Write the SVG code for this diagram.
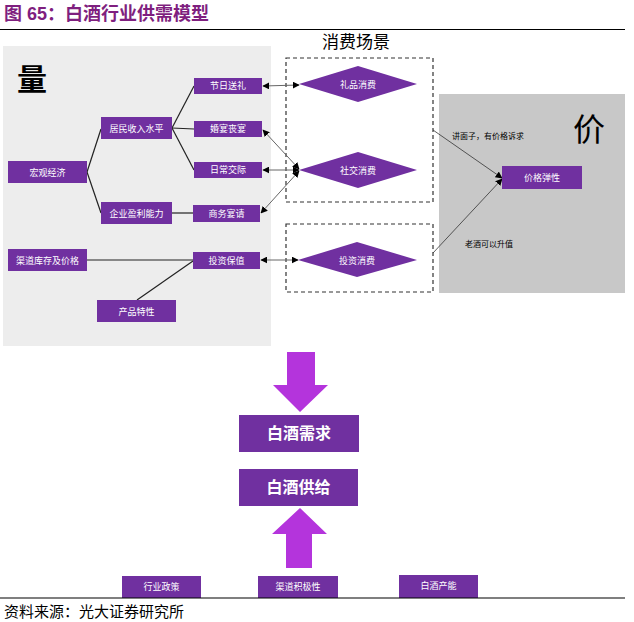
<svg xmlns="http://www.w3.org/2000/svg" width="634" height="622" viewBox="0 0 634 622">
<style>
.t{font-family:"Liberation Sans","Noto Sans CJK SC",sans-serif}
.box{fill:#7030A0}
.bt{font-family:"Liberation Sans","Noto Sans CJK SC",sans-serif;fill:#fff;font-size:9px;text-anchor:middle}
.big{font-family:"Liberation Sans","Noto Sans CJK SC",sans-serif;fill:#fff;font-size:16px;text-anchor:middle;font-weight:bold}
.ln{stroke:#222;stroke-width:1.2;fill:none}
.ar{stroke:#666;stroke-width:1;fill:none;marker-start:url(#ah);marker-end:url(#ah)}
.ar1{stroke:#333;stroke-width:0.8;fill:none;marker-end:url(#ah)}
.dash{fill:none;stroke:#333;stroke-width:1.2;stroke-dasharray:4,3}
.bigarrow{fill:#B434DC}
</style>
<defs>
<marker id="ah" viewBox="0 0 10 10" refX="9" refY="5" markerWidth="7" markerHeight="7" markerUnits="userSpaceOnUse" orient="auto-start-reverse">
<path d="M0,0 L10,5 L0,10 Z" fill="#000"/>
</marker>
</defs>
<rect width="634" height="622" fill="#fff"/>
<text x="4" y="20" class="t" font-size="18" font-weight="bold" fill="#7F1F7F">图 65：白酒行业供需模型</text>
<line x1="0" y1="29.5" x2="625" y2="29.5" stroke="#000" stroke-width="1.2"/>

<g id="panel-left">
<rect x="3" y="46" width="268" height="300" fill="#EDEDED"/>
<text x="17" y="90" class="t" font-size="30" font-weight="bold" fill="#000">量</text>
</g>
<g id="panel-right">
<rect x="439" y="94" width="186" height="199" fill="#C8C8C8"/>
<text x="573" y="141" class="t" font-size="32" fill="#000">价</text>
</g>
<g id="scene">
<text x="356" y="48" class="t" font-size="17" fill="#000" text-anchor="middle">消费场景</text>
<rect x="286" y="58" width="147" height="144" class="dash"/>
<rect x="286" y="224" width="147" height="68" class="dash"/>
</g>

<g id="connectors">
<line class="ln" x1="87" y1="172" x2="101" y2="129"/>
<line class="ln" x1="87" y1="172" x2="101" y2="213"/>
<line class="ln" x1="172" y1="128" x2="194" y2="86"/>
<line class="ln" x1="172" y1="128" x2="194" y2="129"/>
<line class="ln" x1="172" y1="128" x2="194" y2="170"/>
<line class="ln" x1="172" y1="213" x2="193" y2="213"/>
<line class="ln" x1="87" y1="260" x2="193" y2="260" stroke="#444"/>
<line class="ln" x1="137" y1="300" x2="193" y2="261" stroke="#444" stroke-width="1"/>
<line class="ar" x1="263" y1="86" x2="299" y2="85"/>
<line class="ar" x1="263" y1="130" x2="299" y2="169"/>
<line class="ar" x1="263" y1="170" x2="299" y2="170"/>
<line class="ar" x1="261" y1="213" x2="299" y2="171"/>
<line class="ar" x1="261" y1="260" x2="298" y2="260"/>
<line class="ar1" x1="433" y1="130" x2="502" y2="178"/>
<line class="ar1" x1="433" y1="253" x2="502" y2="179"/>
<text x="452" y="139" class="t" font-size="8" fill="#000">讲面子，有价格诉求</text>
<text x="465" y="247" class="t" font-size="8" fill="#000">老酒可以升值</text>
</g>

<g id="n-hongguan"><rect class="box" x="8" y="161" width="79" height="22"/><text class="bt" x="47.5" y="175.5">宏观经济</text></g>
<g id="n-jumin"><rect class="box" x="101" y="117" width="71" height="22"/><text class="bt" x="136.5" y="131.5">居民收入水平</text></g>
<g id="n-qiye"><rect class="box" x="101" y="202" width="71" height="22"/><text class="bt" x="136.5" y="216.5">企业盈利能力</text></g>
<g id="n-jieri"><rect class="box" x="194" y="78" width="68" height="16"/><text class="bt" x="228" y="89">节日送礼</text></g>
<g id="n-hunyan"><rect class="box" x="194" y="121" width="68" height="16"/><text class="bt" x="228" y="132">婚宴丧宴</text></g>
<g id="n-richang"><rect class="box" x="194" y="162" width="68" height="16"/><text class="bt" x="228" y="173">日常交际</text></g>
<g id="n-shangwu"><rect class="box" x="193" y="205" width="67" height="17"/><text class="bt" x="226.5" y="216.5">商务宴请</text></g>
<g id="n-touzibaozhi"><rect class="box" x="193" y="252" width="67" height="17"/><text class="bt" x="226.5" y="263.5">投资保值</text></g>
<g id="n-qudao"><rect class="box" x="8" y="249" width="79" height="22"/><text class="bt" x="47.5" y="263.5">渠道库存及价格</text></g>
<g id="n-chanpin"><rect class="box" x="97" y="300" width="79" height="22"/><text class="bt" x="136.5" y="314.5">产品特性</text></g>

<g id="n-lipin"><polygon class="box" points="299,84 358,66 417,84 358,102"/><text class="bt" x="358" y="87.5">礼品消费</text></g>
<g id="n-shejiao"><polygon class="box" points="299,170 358,152 417,170 358,188"/><text class="bt" x="358" y="173.5">社交消费</text></g>
<g id="n-touzixiaofei"><polygon class="box" points="298,260 357,242 417,260 357,277"/><text class="bt" x="357" y="263.5">投资消费</text></g>

<g id="n-jiage"><rect class="box" x="502" y="166" width="80" height="23"/><text class="bt" x="542" y="181">价格弹性</text></g>

<g id="arrow-down"><path class="bigarrow" d="M287,352 H315 V385 H328 L300,412 L273,385 H287 Z"/></g>
<g id="n-xuqiu"><rect class="box" x="239" y="415" width="120" height="37"/><text class="big" x="299" y="439">白酒需求</text></g>
<g id="n-gongji"><rect class="box" x="239" y="469" width="119" height="37"/><text class="big" x="298.5" y="493">白酒供给</text></g>
<g id="arrow-up"><path class="bigarrow" d="M300,508 L327,534 H312 V568 H286 V534 H272 Z"/></g>

<g id="n-zhengce"><rect class="box" x="122" y="576" width="79" height="22"/><text class="bt" x="161.5" y="590">行业政策</text></g>
<g id="n-jiji"><rect class="box" x="258" y="576" width="80" height="22"/><text class="bt" x="298" y="590">渠道积极性</text></g>
<g id="n-channeng"><rect class="box" x="399" y="575" width="79" height="23"/><text class="bt" x="438.5" y="589">白酒产能</text></g>

<line x1="0" y1="598" x2="625" y2="598" stroke="#000" stroke-width="1.2"/>
<text x="4" y="617" class="t" font-size="15" fill="#000">资料来源：光大证券研究所</text>
</svg>
